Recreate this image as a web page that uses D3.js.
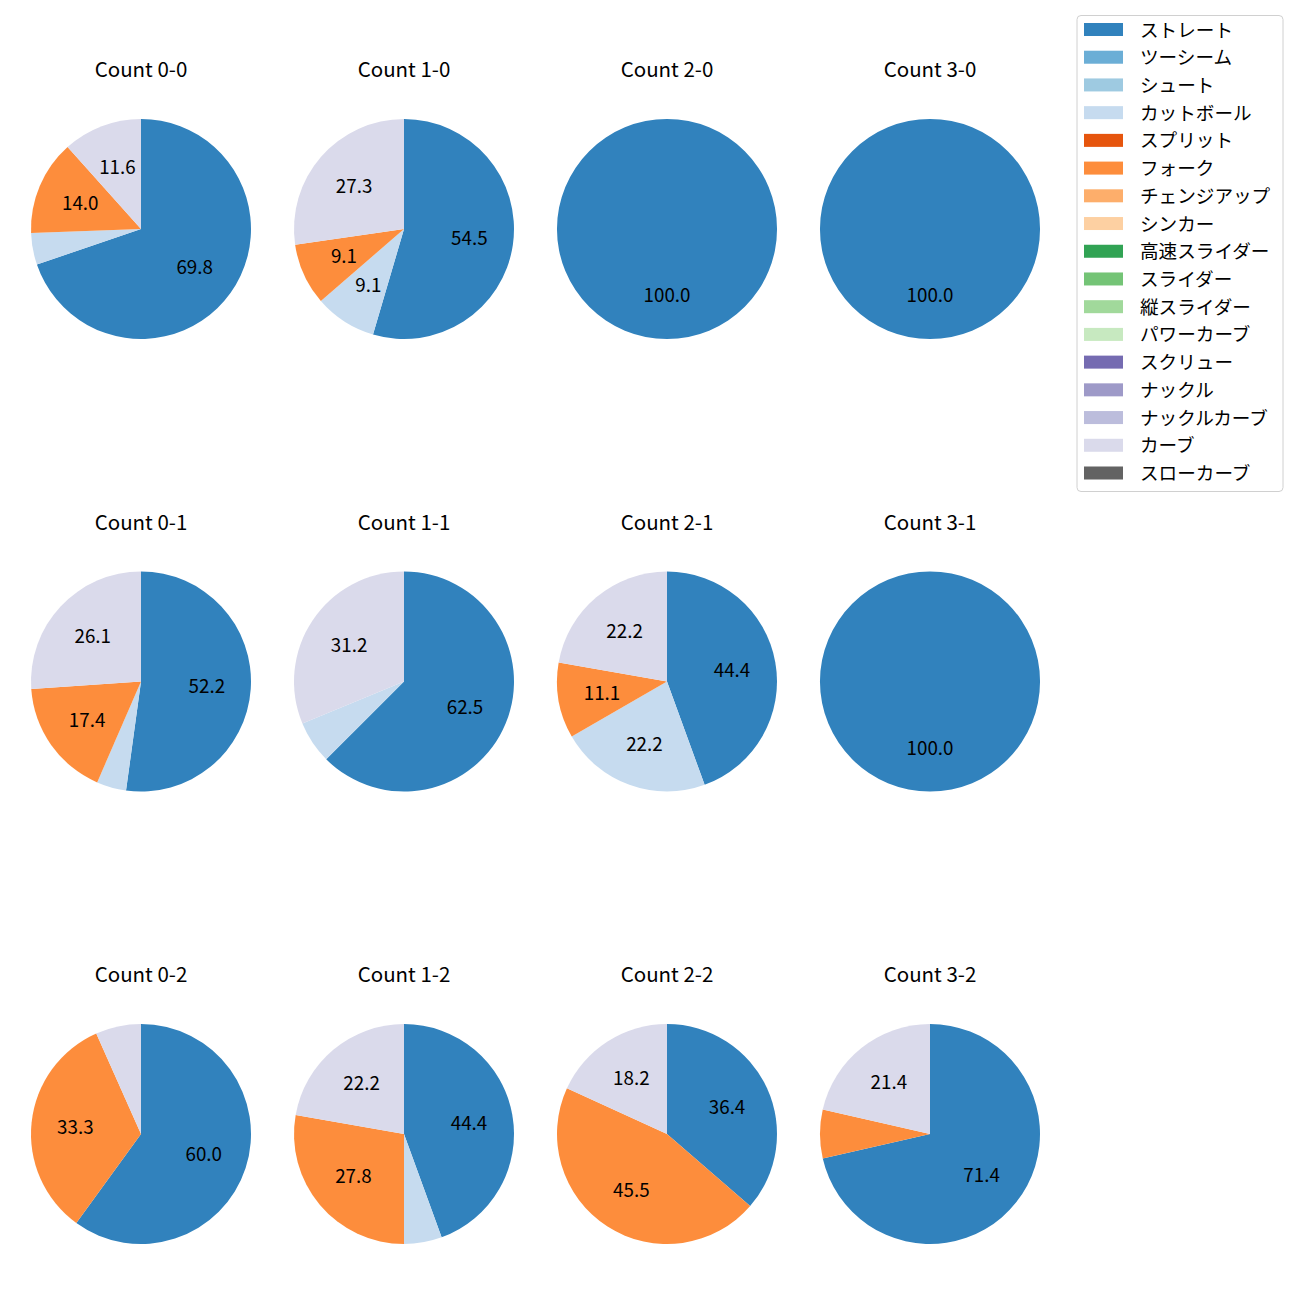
<!DOCTYPE html>
<html><head><meta charset="utf-8">
<script src="https://cdn.jsdelivr.net/npm/d3@7"></script>
<style>body{margin:0;background:#fff;}svg{display:block;font-family:"Noto Sans CJK JP","Noto Sans",sans-serif;}</style>
</head><body>
<script>
const pitchTypes = ["ストレート","ツーシーム","シュート","カットボール","スプリット","フォーク","チェンジアップ","シンカー","高速スライダー","スライダー","縦スライダー","パワーカーブ","スクリュー","ナックル","ナックルカーブ","カーブ","スローカーブ"];
const pitchColors = ["#3182bd","#6baed6","#9ecae1","#c6dbef","#e6550d","#fd8d3c","#fdae6b","#fdd0a2","#31a354","#74c476","#a1d99b","#c7e9c0","#756bb1","#9e9ac8","#bcbddc","#dadaeb","#636363"];
const countLabels = ["Count 0-0","Count 1-0","Count 2-0","Count 3-0","Count 0-1","Count 1-1","Count 2-1","Count 3-1","Count 0-2","Count 1-2","Count 2-2","Count 3-2"];
// pitch counts per ball-strike count: [ストレート, カットボール, フォーク, カーブ]
const shownTypes = ["ストレート","カットボール","フォーク","カーブ"];
const pitchCounts = [
  [30,2,6,5],
  [6,1,1,3],
  [1,0,0,0],
  [1,0,0,0],
  [12,1,4,6],
  [10,1,0,5],
  [4,2,1,2],
  [1,0,0,0],
  [9,0,5,1],
  [8,1,5,4],
  [4,0,5,2],
  [10,0,1,3]
];

function fmtPct(v){
  const s=v*10, f=Math.floor(s), diff=s-f;
  let r;
  if(Math.abs(diff-0.5)<1e-9) r=(f%2===0)?f:f+1; else r=Math.round(s);
  return (r/10).toFixed(1);
}

const W=1300,H=1300;
const svg=d3.select("body").append("svg").attr("width",W).attr("height",H);
const color=d3.scaleOrdinal().domain(pitchTypes).range(pitchColors);
const colX=d3.scalePoint().domain([0,1,2,3]).range([141,930]);
const rowY=d3.scalePoint().domain([0,1,2]).range([229,1134]);
const R=110;
const pie=d3.pie().sort(null).value(d=>d.v);
const arc=d3.arc().innerRadius(0).outerRadius(R);
const labelArc=d3.arc().innerRadius(R*0.6).outerRadius(R*0.6);

countLabels.forEach((lab,i)=>{
  const cx=colX(i%4), cy=rowY(Math.floor(i/4));
  const g=svg.append("g").attr("transform",`translate(${cx},${cy})`);
  const data=shownTypes.map((t,j)=>({t,v:pitchCounts[i][j]})).filter(d=>d.v>0);
  const total=d3.sum(data,d=>d.v);
  const arcs=pie(data);
  g.selectAll("path").data(arcs).join("path").attr("d",arc).attr("fill",d=>color(d.data.t));
  g.selectAll("text.lbl").data(arcs.filter(d=>d.data.v/total*100>=8)).join("text").attr("class","lbl")
    .attr("transform",d=>{const c=labelArc.centroid(d);return `translate(${c[0]},${c[1]-1.5})`;})
    .attr("text-anchor","middle").attr("dominant-baseline","central")
    .attr("font-size",18.8).attr("fill","#000")
    .text(d=>fmtPct(d.data.v/total*100));
  svg.append("text").attr("x",cx).attr("y",cy-161).attr("text-anchor","middle").attr("dominant-baseline","central")
    .attr("font-size",20.5).attr("fill","#000").text(lab);
});

// legend
const lg=svg.append("g");
lg.append("rect").attr("x",1077).attr("y",15.5).attr("width",206).attr("height",476).attr("rx",4)
  .attr("fill","#fff").attr("stroke","#d0d0d0").attr("stroke-width",1);
const ly=d3.scaleLinear().domain([0,16]).range([29.5,473]);
pitchTypes.forEach((t,i)=>{
  lg.append("rect").attr("x",1084).attr("y",ly(i)-6.5).attr("width",39).attr("height",13).attr("fill",color(t));
  lg.append("text").attr("x",1140).attr("y",ly(i)-1.5).attr("dominant-baseline","central").attr("font-size",18.6).attr("fill","#000").text(t);
});
</script>
</body></html>
